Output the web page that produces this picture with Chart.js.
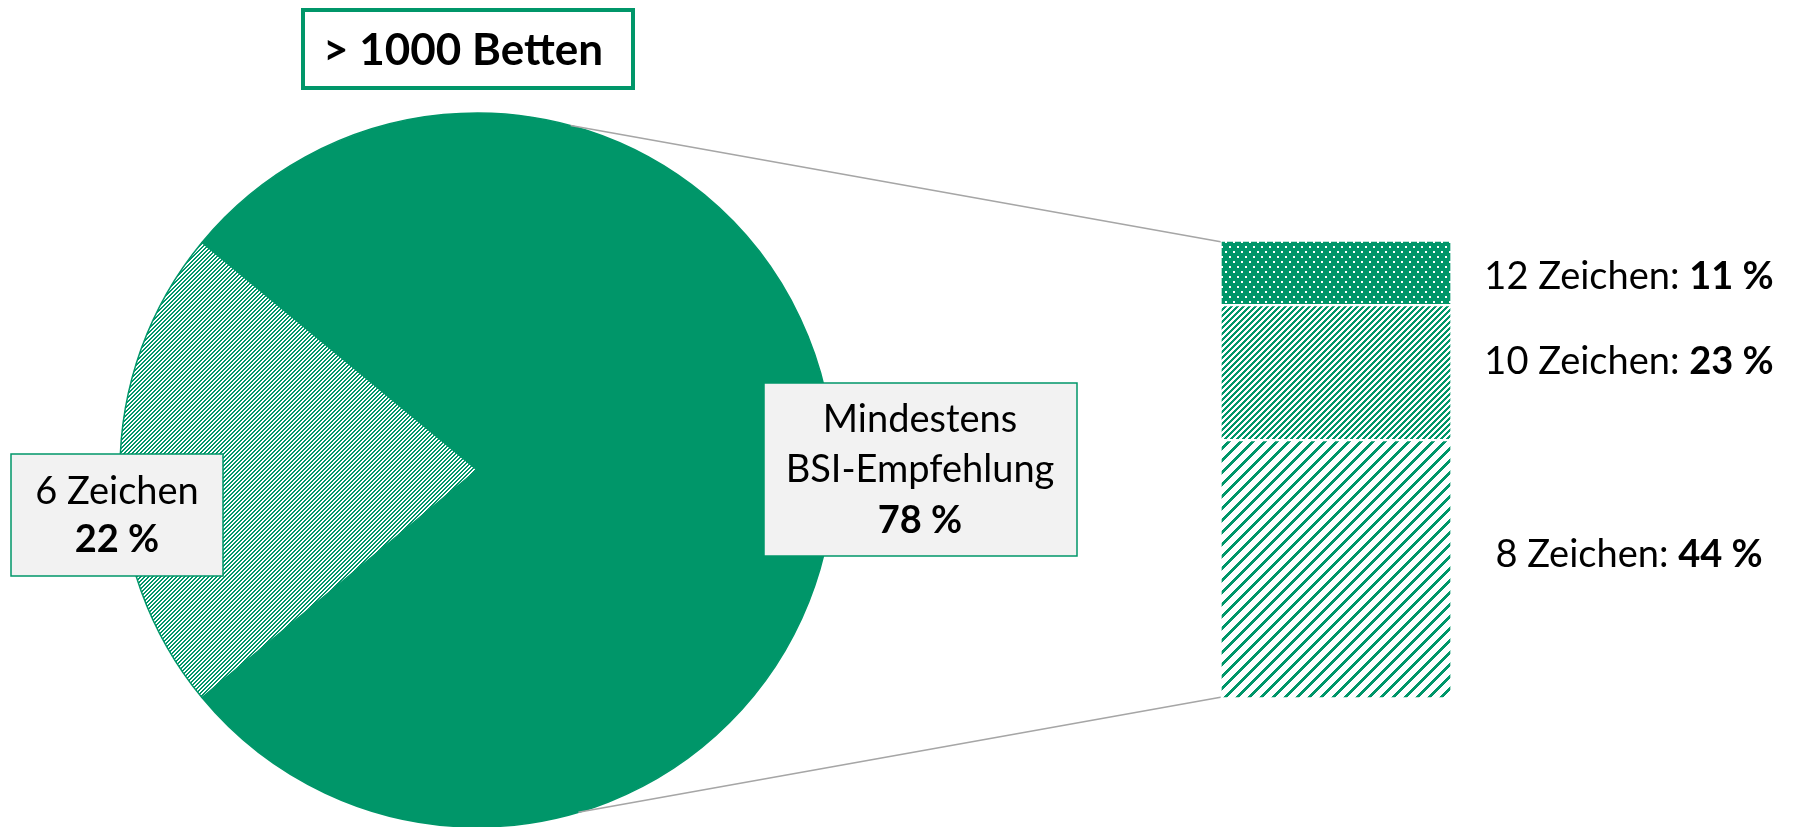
<!DOCTYPE html>
<html><head><meta charset="utf-8">
<script src="https://cdn.jsdelivr.net/npm/chart.js@4.4.1/dist/chart.umd.min.js"></script>
<style>
html,body{margin:0;padding:0;background:#fff;}
#wrap{position:relative;width:1793px;height:827px;overflow:hidden;background:#fff;}
canvas{position:absolute;left:0;top:0;}
</style></head><body>
<div id="wrap"><canvas id="pie" width="1793" height="827"></canvas><canvas id="bar" width="1793" height="827"></canvas></div>
<script>
// ---- data ----
const chartTitle = '> 1000 Betten';
const pieCategories = ['Mindestens BSI-Empfehlung', '6 Zeichen'];
const pieLabelLines = [['Mindestens', 'BSI-Empfehlung'], ['6 Zeichen']];
const pieValues = [78, 22];
const barCategories = ['8 Zeichen', '10 Zeichen', '12 Zeichen'];
const barValues = [44, 23, 11];
const unitSuffix = ' %';

// ---- style ----
const GREEN = '#009669';
const FONT = 'Lato, "Open Sans", sans-serif';
const FS = 38;

function makePattern(w, h, isFg, fg, bg) {
  const c = document.createElement('canvas');
  c.width = w; c.height = h;
  const x = c.getContext('2d');
  x.fillStyle = bg; x.fillRect(0, 0, w, h);
  x.fillStyle = fg;
  for (let j = 0; j < h; j++) for (let i = 0; i < w; i++) if (isFg(i, j)) x.fillRect(i, j, 1, 1);
  return x.createPattern(c, 'repeat');
}
const patFine = makePattern(4, 4, (i, j) => (i + j) % 4 < 2, GREEN, '#fff');
const patMed = makePattern(6, 6, (i, j) => (i + j) % 6 < 3, GREEN, '#fff');
const patWide = makePattern(12, 12, (i, j) => (i + j) % 12 < 4, GREEN, '#fff');
const patDots = makePattern(8, 10, (i, j) => ((i === 1 || i === 2) && (j === 1 || j === 2)) || ((i === 5 || i === 6) && (j === 6 || j === 7)), '#fff', GREEN);
const barPatterns = [patWide, patMed, patDots];

function drawBox(ctx, x, y, w, h, fill, stroke, lw) {
  ctx.save();
  ctx.fillStyle = fill; ctx.fillRect(x, y, w, h);
  ctx.strokeStyle = stroke; ctx.lineWidth = lw; ctx.strokeRect(x, y, w, h);
  ctx.restore();
}
function drawText(ctx, parts, cx, cy) {
  ctx.save();
  ctx.textBaseline = 'middle'; ctx.textAlign = 'left'; ctx.fillStyle = '#000';
  let total = 0;
  parts.forEach(p => { ctx.font = (p.bold ? 'bold ' : '') + FS + 'px ' + FONT; p.w = ctx.measureText(p.t).width; total += p.w; });
  let x = cx - total / 2;
  parts.forEach(p => { ctx.font = (p.bold ? 'bold ' : '') + FS + 'px ' + FONT; ctx.fillText(p.t, x, cy); x += p.w; });
  ctx.restore();
}

// ---- pie ----
const pieTotal = pieValues.reduce((a, b) => a + b, 0);
const pieRotation = 270 - (pieValues[0] + pieValues[1] / 2) / pieTotal * 360;

const pieLabelsPlugin = {
  id: 'pieLabels',
  afterDatasetsDraw(chart) {
    const ctx = chart.ctx;
    const arc = chart.getDatasetMeta(0).data[0];
    const cx = arc.x, cy = arc.y;
    drawBox(ctx, 303, 10, 330, 78, '#fff', GREEN, 4);
    ctx.save();
    ctx.font = 'bold 44px ' + FONT; ctx.fillStyle = '#000'; ctx.textAlign = 'center'; ctx.textBaseline = 'middle';
    ctx.fillText(chartTitle, 463, 51);
    ctx.restore();
    const bx = cx + 443, by = cy - 1;
    drawBox(ctx, bx - 156, by - 86, 313, 173, '#F2F2F2', GREEN, 1.5);
    drawText(ctx, [{t: pieLabelLines[0][0]}], bx, by - 49);
    drawText(ctx, [{t: pieLabelLines[0][1]}], bx, by + 1);
    drawText(ctx, [{t: pieValues[0] + unitSuffix, bold: true}], bx, by + 52);
    const sx = 117, sy = 515;
    drawBox(ctx, sx - 106, sy - 61, 212, 122, '#F2F2F2', GREEN, 1.5);
    drawText(ctx, [{t: pieLabelLines[1][0]}], sx, sy - 23);
    drawText(ctx, [{t: pieValues[1] + unitSuffix, bold: true}], sx, sy + 25);
  }
};

const pieChart = new Chart(document.getElementById('pie'), {
  type: 'pie',
  data: {
    labels: pieCategories,
    datasets: [{
      data: pieValues,
      backgroundColor: [GREEN, patFine],
      borderColor: GREEN,
      borderWidth: 1.5
    }]
  },
  options: {
    responsive: false, animation: false, devicePixelRatio: 1,
    rotation: pieRotation,
    radius: 357,
    layout: {padding: {left: 120, right: 959, top: 113, bottom: 0}},
    plugins: {legend: {display: false}, tooltip: {enabled: false}, title: {display: false}},
    events: []
  },
  plugins: [pieLabelsPlugin]
});

// ---- bar ----
const barTotal = barValues.reduce((a, b) => a + b, 0);
const BW = 1.5;
const barExtras = {
  id: 'barExtras',
  beforeDatasetsDraw(chart) {
    const ctx = chart.ctx;
    const arc = pieChart.getDatasetMeta(0).data[0];
    const bottomEl = chart.getDatasetMeta(0).data[0];
    const topEl = chart.getDatasetMeta(barValues.length - 1).data[0];
    const left = bottomEl.x - bottomEl.width / 2 + BW;
    const topY = topEl.y + BW;
    const baseY = bottomEl.base - BW;
    const a1 = -74.8 * Math.PI / 180, a2 = 73.5 * Math.PI / 180;
    ctx.save();
    ctx.strokeStyle = '#A6A6A6'; ctx.lineWidth = 1.6;
    ctx.beginPath();
    ctx.moveTo(arc.x + arc.outerRadius * Math.cos(a1), arc.y + arc.outerRadius * Math.sin(a1));
    ctx.lineTo(left, topY);
    ctx.moveTo(arc.x + arc.outerRadius * Math.cos(a2), arc.y + arc.outerRadius * Math.sin(a2));
    ctx.lineTo(left, baseY);
    ctx.stroke();
    ctx.restore();
  },
  afterDatasetsDraw(chart) {
    const ctx = chart.ctx;
    const labelYs = [555, 362, 277];
    barValues.forEach((v, i) => {
      drawText(ctx, [{t: barCategories[i] + ': '}, {t: v + unitSuffix, bold: true}], 1629, labelYs[i]);
    });
  }
};

const barChart = new Chart(document.getElementById('bar'), {
  type: 'bar',
  data: {
    labels: [''],
    datasets: barValues.map((v, i) => ({
      label: barCategories[i],
      data: [v],
      backgroundColor: barPatterns[i],
      borderColor: '#fff',
      borderWidth: BW,
      borderSkipped: false,
      barPercentage: 1,
      categoryPercentage: 1
    }))
  },
  options: {
    responsive: false, animation: false, devicePixelRatio: 1,
    layout: {padding: {left: 1222 - BW, right: 343 - BW, top: 242 - BW, bottom: 130 - BW}},
    scales: {
      x: {stacked: true, display: false},
      y: {stacked: true, display: false, min: 0, max: barTotal}
    },
    plugins: {legend: {display: false}, tooltip: {enabled: false}, title: {display: false}},
    events: []
  },
  plugins: [barExtras]
});
</script>
</body></html>
